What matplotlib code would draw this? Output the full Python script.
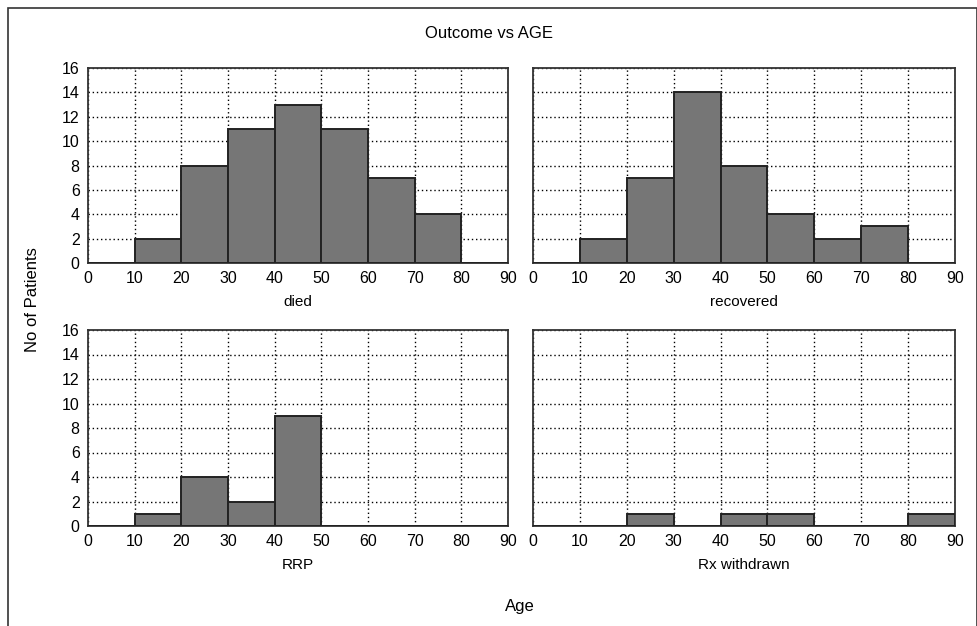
import matplotlib
matplotlib.use("Agg")
import matplotlib.pyplot as plt
from matplotlib.patches import Rectangle

plt.rcParams['font.family'] = ['Liberation Sans', 'DejaVu Sans']

bin_edges = [0, 10, 20, 30, 40, 50, 60, 70, 80, 90]
died = [0, 2, 8, 11, 13, 11, 7, 4, 0]
recovered = [0, 2, 7, 14, 8, 4, 2, 3, 0]
rrp = [0, 1, 4, 2, 9, 0, 0, 0, 0]
rx_withdrawn = [0, 0, 1, 0, 1, 1, 0, 0, 1]

panels = [("died", died), ("recovered", recovered),
          ("RRP", rrp), ("Rx withdrawn", rx_withdrawn)]

W, H = 978, 626
fig = plt.figure(figsize=(W / 100, H / 100), dpi=100)

# axes boxes in pixels: left, top, right, bottom
boxes = [(88, 68, 508, 263), (533, 68, 955, 263),
         (88, 330, 508, 526), (533, 330, 955, 526)]

for i, ((name, counts), (l, t, r, b)) in enumerate(zip(panels, boxes)):
    ax = fig.add_axes([l / W, 1 - b / H, (r - l) / W, (b - t) / H])
    ax.bar(bin_edges[:-1], counts, width=10, align='edge',
           color='#767676', edgecolor='#222222', linewidth=1.4, zorder=3)
    ax.set_xlim(0, 90)
    ax.set_ylim(0, 16)
    ax.set_xticks(bin_edges)
    ax.set_yticks(range(0, 17, 2))
    ax.grid(True, linestyle=(0, (1, 2)), color='black', linewidth=1.0, zorder=1)
    ax.tick_params(length=0, labelsize=11.5, pad=6)
    if i % 2 == 1:
        ax.set_yticklabels([])
    for s in ax.spines.values():
        s.set_linewidth(1.3)
        s.set_color('#333333')
    ax.set_xlabel(name, fontsize=11, labelpad=6)

fig.text(489 / W, 1 - 33 / H, "Outcome vs AGE", ha='center', va='center', fontsize=12)
fig.text(33 / W, 1 - 300 / H, "No of Patients", ha='center', va='center',
         rotation=90, fontsize=12)
fig.text(520 / W, 1 - 606 / H, "Age", ha='center', va='center', fontsize=12)

fig.patches.append(Rectangle((8 / W, -0.01), 1 - 8 / W - 1 / W, 1 - 8 / H + 0.01,
                             transform=fig.transFigure, fill=False,
                             edgecolor='#333333', linewidth=1.2))

fig.savefig("out.png", dpi=100)
